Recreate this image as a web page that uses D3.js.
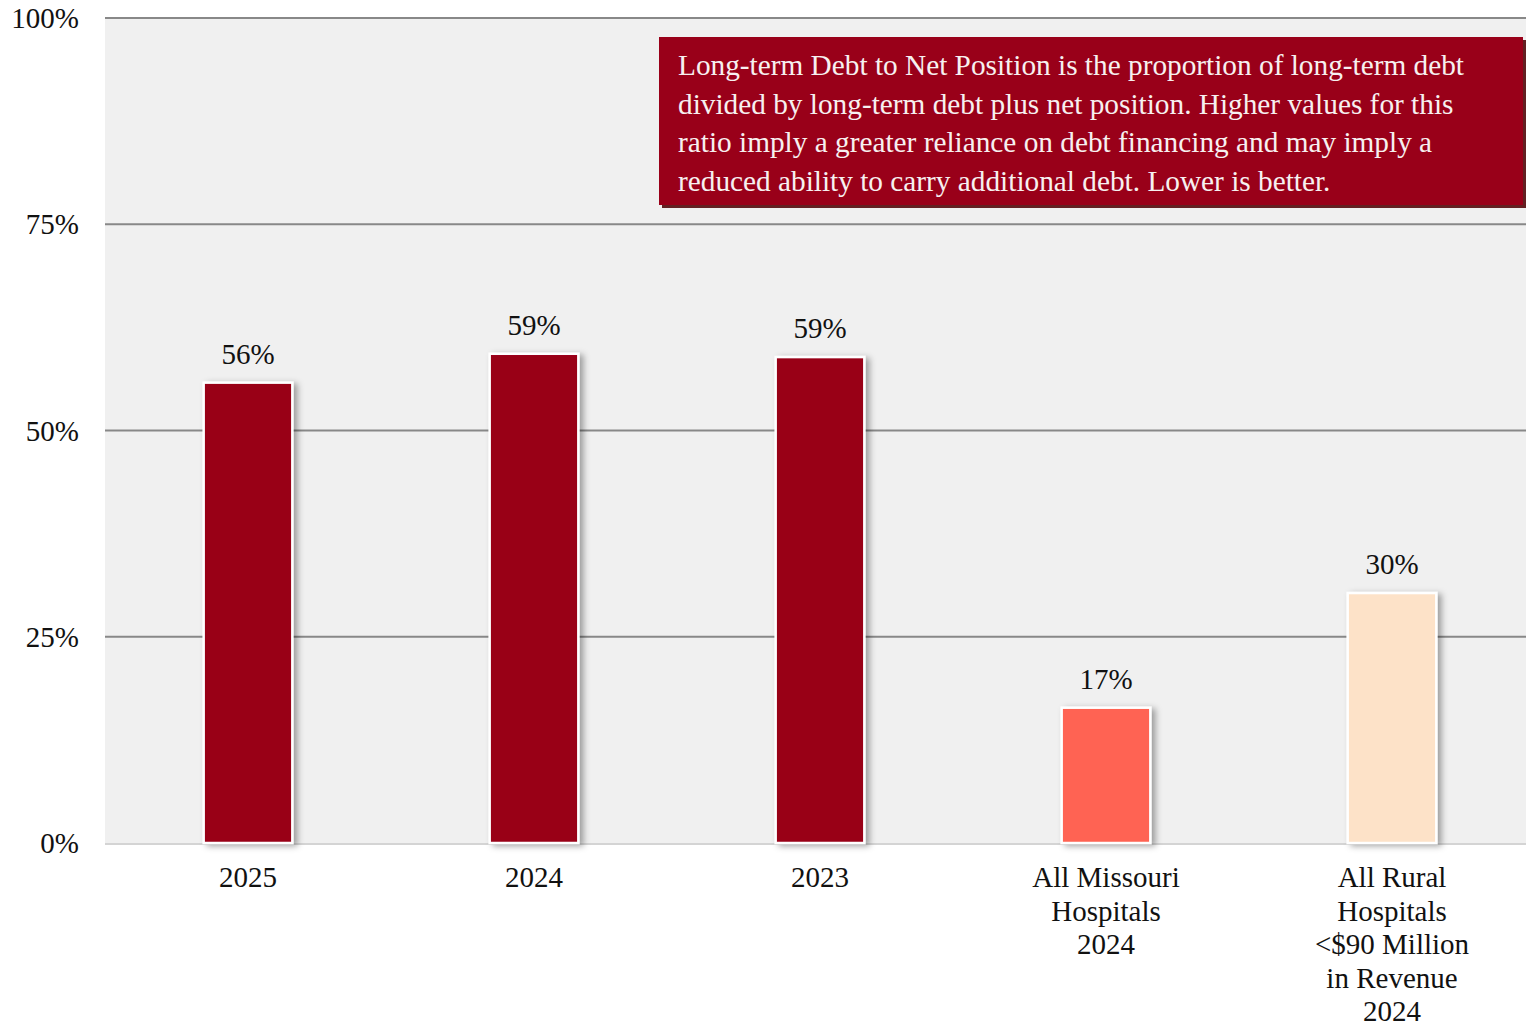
<!DOCTYPE html>
<html><head><meta charset="utf-8">
<script src="https://cdn.jsdelivr.net/npm/d3@7"></script>
<style>body{margin:0;background:#fff;}svg{display:block;font-family:"Liberation Serif","Times New Roman",serif;}</style>
</head><body><svg id="c" width="1526" height="1026"></svg>
<script>
const categories = [["2025"],["2024"],["2023"],["All Missouri","Hospitals","2024"],["All Rural","Hospitals","<$90 Million","in Revenue","2024"]];
const values = [55.8, 59.3, 58.9, 16.4, 30.3];
const labels = ["56%","59%","59%","17%","30%"];
const colors = ["#990019","#990019","#990019","#FF6352","#FDE2C8"];
const yTicks = [0,25,50,75,100];
const noteLines = ["Long-term Debt to Net Position is the proportion of long-term debt","divided by long-term debt plus net position. Higher values for this","ratio imply a greater reliance on debt financing and may imply a","reduced ability to carry additional debt. Lower is better."];

const svg = d3.select("#c");
const L=105, R=1535, T=18, B=843;
const x = d3.scaleBand().domain(d3.range(values.length)).range([L,R]).paddingInner(0.69).paddingOuter(0.345);
const y = d3.scaleLinear().domain([0,100]).range([B,T]);

const defs = svg.append("defs");
const f = defs.append("filter").attr("id","sh").attr("x","-20%").attr("y","-10%").attr("width","150%").attr("height","130%");
f.append("feDropShadow").attr("dx",4).attr("dy",2).attr("stdDeviation",3).attr("flood-color","#000").attr("flood-opacity",0.35);

svg.append("rect").attr("x",L).attr("y",T).attr("width",1526-L).attr("height",B-T).attr("fill","#f0f0f0");

svg.append("g").selectAll("line").data(yTicks.filter(d=>d>0)).join("line")
  .attr("x1",L).attr("x2",1526).attr("y1",d=>y(d)).attr("y2",d=>y(d))
  .attr("stroke","#888").attr("stroke-width",2);
svg.append("line").attr("x1",L).attr("x2",1526).attr("y1",y(0)+1).attr("y2",y(0)+1).attr("stroke","#d4d4d4").attr("stroke-width",2);

svg.append("g").selectAll("text").data(yTicks).join("text")
  .attr("x",79).attr("y",d=>y(d)).attr("dy","0.35em").attr("text-anchor","end")
  .attr("font-size",29).attr("fill","#111").text(d=>d+"%");

svg.append("g").selectAll("rect").data(values).join("rect")
  .attr("x",(d,i)=>x(i)).attr("width",x.bandwidth())
  .attr("y",d=>y(d)).attr("height",d=>y(0)-y(d))
  .attr("fill",(d,i)=>colors[i]).attr("stroke","#fff").attr("stroke-width",2.5)
  .attr("filter","url(#sh)");

svg.append("g").selectAll("text").data(values).join("text")
  .attr("x",(d,i)=>x(i)+x.bandwidth()/2).attr("y",d=>y(d)-19)
  .attr("text-anchor","middle").attr("font-size",29).attr("fill","#111").text((d,i)=>labels[i]);

const cg = svg.append("g");
categories.forEach((lines,i)=>{
  const t = cg.append("text").attr("text-anchor","middle").attr("font-size",29).attr("fill","#111");
  lines.forEach((s,j)=>t.append("tspan").attr("x",x(i)+x.bandwidth()/2).attr("y",887+j*33.6).text(s));
});

const nb = svg.append("g");
nb.append("rect").attr("x",662).attr("y",40).attr("width",864).attr("height",168).attr("fill","#632022");
nb.append("rect").attr("x",659).attr("y",37).attr("width",864).attr("height",168).attr("fill","#990019");
const nt = nb.append("text").attr("font-size",29.3).attr("fill","#f7f0f0");
noteLines.forEach((s,j)=>nt.append("tspan").attr("x",678).attr("y",75+j*38.7).text(s));
</script></body></html>
